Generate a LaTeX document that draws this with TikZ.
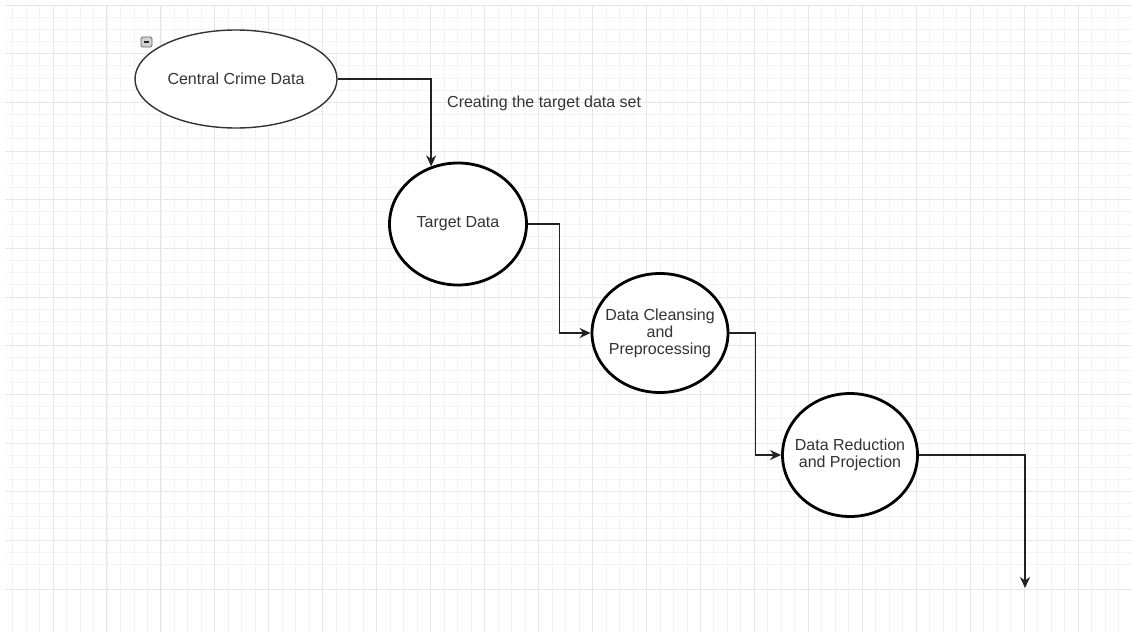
\documentclass[tikz,border=0pt]{standalone}
\usepackage{fontspec}
\setmainfont{Liberation Sans}
\usetikzlibrary{shapes.geometric,arrows.meta,calc}
\definecolor{gridmajor}{HTML}{E6E6E6}
\definecolor{gridminor}{HTML}{F3F3F3}
\definecolor{inkgray}{HTML}{333333}
\definecolor{edgegray}{HTML}{222222}
\tikzset{
  lbl/.style={font=\fontsize{16}{17}\selectfont, text=inkgray, align=center},
  source/.style={ellipse, draw=inkgray, line width=1.4pt, fill=white, inner sep=0pt},
  proc/.style={ellipse, draw=black, line width=2.8pt, fill=white, inner sep=0pt},
  arr/.style={draw=edgegray, line width=1.5pt, -{Stealth[length=11pt,width=10pt,inset=3.5pt]}},
}
\begin{document}
\begin{tikzpicture}[x=1pt,y=-1pt]
\useasboundingbox (0,0) rectangle (1132,632);
\fill[white] (0,0) rectangle (1132,632);
% minor grid
\foreach \i in {0,...,46} {
  \draw[gridminor, line width=0.8pt] (5,{5+12.1675*\i}) -- (1132,{5+12.1675*\i});
}
\foreach \i in {-3,...,80} {
  \draw[gridminor, line width=0.8pt] ({53+13.4875*\i},5) -- ({53+13.4875*\i},632);
}
% major grid
\foreach \i in {0,...,12} {
  \draw[gridmajor, line width=1pt] (5,{5+48.67*\i}) -- (1132,{5+48.67*\i});
}
\foreach \i in {0,...,19} {
  \draw[gridmajor, line width=1pt] ({53+53.95*\i},5) -- ({53+53.95*\i},632);
}

% collapse icon
\node[draw=gray!80!black, fill=gray!35, rounded corners=1.5pt, line width=0.8pt,
      minimum width=11pt, minimum height=10pt, inner sep=0pt,
      path picture={\draw[gray!30!black, line width=1.2pt] ($(path picture bounding box.west)+(3,0)$) -- ($(path picture bounding box.east)+(-3,0)$);}]
      (collapse) at (146.5,42) {};

% nodes
\node[source, minimum width=202pt, minimum height=98pt,
      label={[lbl]center:Central Crime Data}] (ccd) at (236,79) {};
\node[proc, minimum width=137pt, minimum height=122pt,
      label={[lbl]center:Target Data}] (td) at (458,224) {};
\node[proc, minimum width=136pt, minimum height=119pt,
      label={[lbl]center:Data Cleansing\\and\\Preprocessing}] (dc) at (660,333) {};
\node[proc, minimum width=135pt, minimum height=123pt,
      label={[lbl]center:Data Reduction\\and Projection}] (dr) at (850,455) {};
\coordinate (out) at (1025,588);

% label
\node[lbl, anchor=west, inner sep=0pt] (lab) at (447,103) {Creating the target data set};

% connectors
\draw[arr] (ccd.east) -| (td.115);
\draw[arr] (td.east) -| ($(td.east)!.5!(dc.west)$) |- (dc.west);
\draw[arr] (dc.east) -| ($(dc.east)!.5!(dr.west)$) |- (dr.west);
\draw[arr] (dr.east) -| (out);
\end{tikzpicture}
\end{document}
